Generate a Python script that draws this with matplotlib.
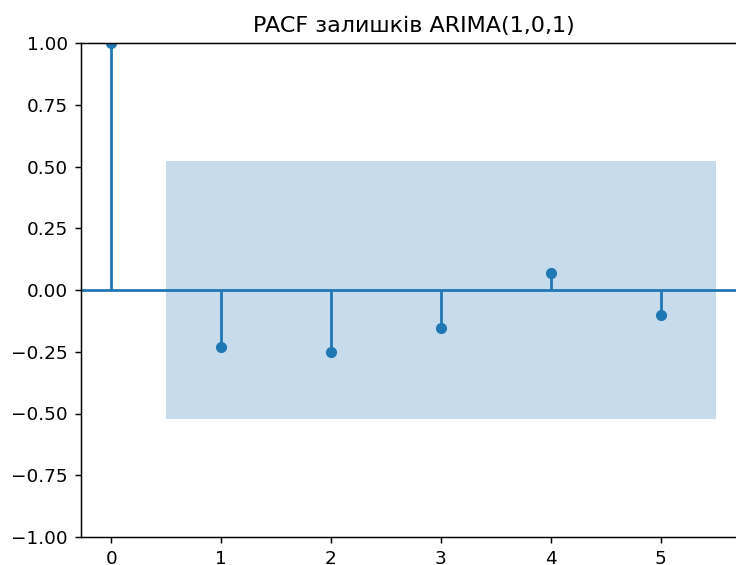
import matplotlib
matplotlib.use("Agg")
import matplotlib.pyplot as plt
import numpy as np

title = "PACF залишків ARIMA(1,0,1)"
lags = [0, 1, 2, 3, 4, 5]
pacf_vals = [1.0, -0.232, -0.252, -0.155, 0.070, -0.102]
conf = 0.522

DPI = 133.33
W, H = 736, 565
fig = plt.figure(figsize=(W / DPI, H / DPI), dpi=DPI)
left, right, top, bottom = 81, 746, 43, 537
ax = fig.add_axes([left / W, (H - bottom) / H, (right - left) / W, (bottom - top) / H])

lags_arr = np.array(lags, dtype=float)
vals = np.array(pacf_vals)
ax.vlines(lags_arr, [0], vals, color="C0")
ax.axhline(0, color="C0")
ax.plot(lags_arr, vals, "o", color="C0", markersize=5)
ax.margins(0.05)

band_x = lags_arr[1:].copy()
band_x[0] -= 0.5
band_x[-1] += 0.5
ax.fill_between(band_x, -conf, conf, alpha=0.25, linewidth=0, color="C0")

ax.set_ylim(-1, 1)
ax.set_yticks(np.arange(-1, 1.01, 0.25))
ax.set_yticklabels([f"{v:.2f}".replace("-", "\u2212") for v in np.arange(-1, 1.01, 0.25)])
ax.set_xticks(lags)
ax.set_title(title)

fig.savefig("out.png", dpi=DPI)
